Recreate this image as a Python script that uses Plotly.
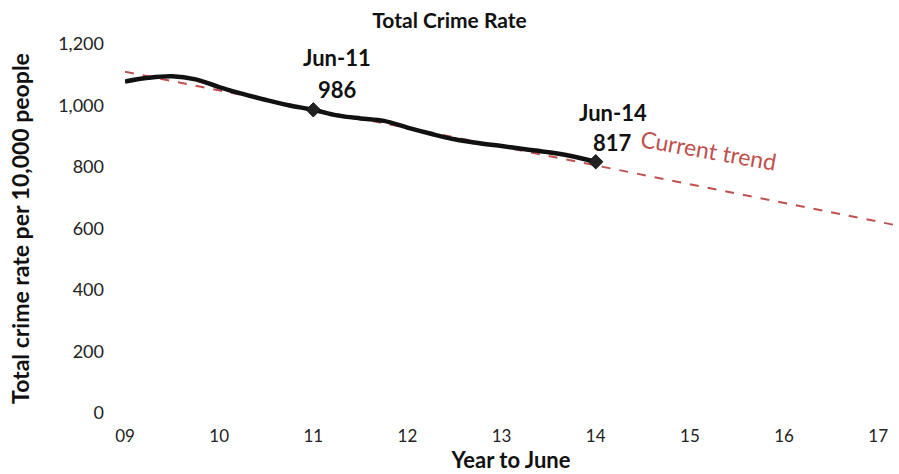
import plotly.graph_objects as go

# Data
years = [9.00, 9.25, 9.50, 9.75, 10.00, 10.25, 10.50, 10.75, 11.00, 11.25, 11.50,
         11.75, 12.00, 12.25, 12.50, 12.75, 13.00, 13.25, 13.50, 13.75, 14.00]
crime_rate = [1078, 1090, 1095, 1085, 1060, 1038, 1018, 1000, 986, 968, 958,
              950, 928, 908, 890, 878, 868, 858, 848, 835, 817]
marker_years = [11, 14]
marker_values = [986, 817]
marker_labels = ["Jun-11", "Jun-14"]
trend_years = [9.0, 17.2]
trend_values = [1110, 610]
tick_vals = [9, 10, 11, 12, 13, 14, 15, 16, 17]
tick_text = ["09", "10", "11", "12", "13", "14", "15", "16", "17"]

FONT = "Lato, Carlito, 'Open Sans', sans-serif"
RED = "#c0504d"

fig = go.Figure()
fig.add_trace(go.Scatter(x=trend_years, y=trend_values, mode="lines",
                         line=dict(color=RED, width=2, dash="dash"),
                         hoverinfo="skip", showlegend=False))
fig.add_trace(go.Scatter(x=years, y=crime_rate, mode="lines",
                         line=dict(color="#111111", width=4.5, shape="spline"),
                         showlegend=False))
fig.add_trace(go.Scatter(x=marker_years, y=marker_values, mode="markers",
                         marker=dict(symbol="diamond", size=11, color="#222222",
                                     line=dict(color="#111111", width=1)),
                         showlegend=False, cliponaxis=False))

# Annotations for markers
ann_font = dict(family=FONT, size=22, color="#111111")
fig.add_annotation(x=marker_years[0], y=marker_values[0], text="<b>%s</b>" % marker_labels[0],
                   showarrow=False, xanchor="center", yanchor="middle", yshift=52, xshift=24,
                   font=ann_font)
fig.add_annotation(x=marker_years[0], y=marker_values[0], text="<b>%d</b>" % marker_values[0],
                   showarrow=False, xanchor="center", yanchor="middle", yshift=20, xshift=24,
                   font=ann_font)
fig.add_annotation(x=marker_years[1], y=marker_values[1], text="<b>%s</b>" % marker_labels[1],
                   showarrow=False, xanchor="center", yanchor="middle", yshift=49, xshift=17,
                   font=ann_font)
fig.add_annotation(x=marker_years[1], y=marker_values[1], text="<b>%d</b>" % marker_values[1],
                   showarrow=False, xanchor="center", yanchor="middle", yshift=19, xshift=17,
                   font=ann_font)
fig.add_annotation(x=15.2, y=855, text="Current trend", showarrow=False,
                   textangle=10, xanchor="center", yanchor="middle",
                   font=dict(family=FONT, size=23, color=RED))

fig.update_layout(
    width=899, height=474,
    margin=dict(l=125, r=2, t=44, b=61),
    paper_bgcolor="white", plot_bgcolor="white",
    title=dict(text="<b>Total Crime Rate</b>", x=0.5, xanchor="center",
               y=0.957, yanchor="middle",
               font=dict(family=FONT, size=21, color="#111111")),
    font=dict(family=FONT, color="#222222"),
    xaxis=dict(range=[9, 17.2], tickvals=tick_vals, ticktext=tick_text,
               showgrid=False, zeroline=False, showline=False,
               ticks="", ticklabelstandoff=11,
               tickfont=dict(family=FONT, size=17, color="#222222"),
               title=dict(text="<b>Year to June</b>", standoff=6,
                          font=dict(family=FONT, size=22, color="#111111"))),
    yaxis=dict(range=[0, 1200], tickvals=[0, 200, 400, 600, 800, 1000, 1200],
               ticktext=["0", "200", "400", "600", "800", "1,000", "1,200"],
               showgrid=False, zeroline=False, showline=False,
               ticks="", ticklabelstandoff=20,
               tickfont=dict(family=FONT, size=18, color="#222222"),
               title=dict(text="<b>Total crime rate per 10,000 people</b>", standoff=22,
                          font=dict(family=FONT, size=23, color="#111111"))),
)

fig.write_html("out.html", config={"displayModeBar": False},
               post_script="document.body.style.margin='0';document.body.style.overflow='hidden';")
